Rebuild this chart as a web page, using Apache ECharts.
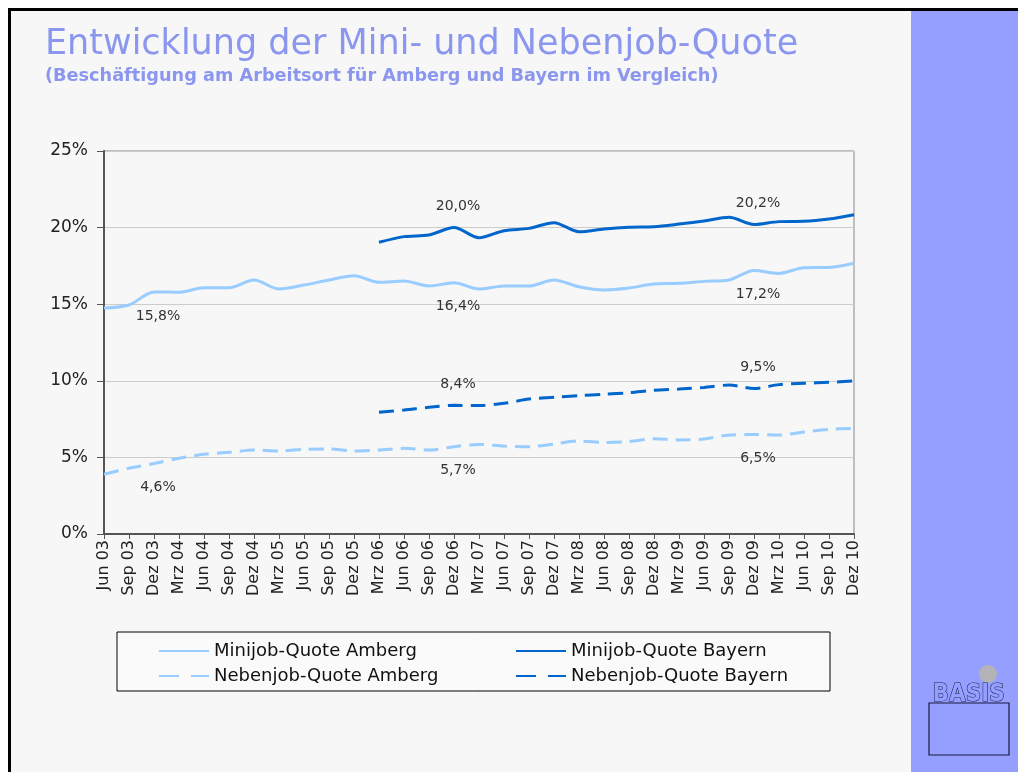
<!DOCTYPE html>
<html>
<head>
<meta charset="utf-8">
<title>Entwicklung der Mini- und Nebenjob-Quote</title>
<script src="https://cdn.jsdelivr.net/npm/echarts@6/dist/echarts.min.js"></script>
<style>
  html, body { margin: 0; padding: 0; background: #fff; }
  #chart { width: 1018px; height: 772px; }
</style>
</head>
<body>
<div id="chart"></div>
<script>
// Quartale Jun 03 - Dez 10
const months = ['Jun 03','Sep 03','Dez 03','Mrz 04','Jun 04','Sep 04','Dez 04','Mrz 05','Jun 05','Sep 05','Dez 05',
  'Mrz 06','Jun 06','Sep 06','Dez 06','Mrz 07','Jun 07','Sep 07','Dez 07','Mrz 08','Jun 08','Sep 08','Dez 08',
  'Mrz 09','Jun 09','Sep 09','Dez 09','Mrz 10','Jun 10','Sep 10','Dez 10'];

const miniAmberg = [14.75,14.95,15.8,15.78,16.08,16.08,16.58,15.99,16.25,16.58,16.86,
  16.43,16.51,16.19,16.4,15.99,16.19,16.19,16.58,16.14,15.93,16.06,16.32,
  16.36,16.49,16.58,17.2,17.01,17.38,17.4,17.67];
const miniBayern = [null,null,null,null,null,null,null,null,null,null,null,
  19.04,19.41,19.52,20.0,19.34,19.8,19.95,20.32,19.73,19.91,20.02,20.06,
  20.23,20.43,20.67,20.2,20.39,20.41,20.56,20.84];
const nebenAmberg = [3.9,4.29,4.6,4.94,5.2,5.33,5.48,5.42,5.53,5.55,5.42,
  5.48,5.59,5.48,5.7,5.85,5.74,5.7,5.87,6.07,5.98,6.03,6.22,
  6.14,6.2,6.46,6.5,6.46,6.66,6.83,6.9];
const nebenBayern = [null,null,null,null,null,null,null,null,null,null,null,
  7.94,8.09,8.27,8.4,8.38,8.53,8.81,8.92,9.03,9.12,9.22,9.38,
  9.46,9.57,9.72,9.5,9.75,9.84,9.9,10.0];

const labelIdx = [2, 14, 26]; // Dez 03, Dez 06, Dez 09
const yTicks = [0, 5, 10, 15, 20, 25];

const hell = '#99ccff';
const dunkel = '#0066cc';
const FONT = 'DejaVu Sans, Liberation Sans, sans-serif';

function withLabels(arr, pos) {
  return arr.map((v, i) => {
    if (labelIdx.indexOf(i) >= 0 && v != null) {
      return { value: v, label: { show: true, position: pos, distance: pos === 'top' ? 14 : 17, offset: [4, 0] } };
    }
    return v;
  });
}

function fmt(p) {
  return p.value.toFixed(1).replace('.', ',') + '%';
}

function lineSeries(name, data, color, dashed, pos) {
  return {
    name: name, type: 'line', smooth: 0.3,
    symbol: 'circle', symbolSize: 0, showSymbol: true,
    data: withLabels(data, pos),
    lineStyle: { color: color, width: 3, type: dashed ? [15, 8] : 'solid' },
    itemStyle: { color: color },
    label: { formatter: fmt, fontSize: 14, color: '#333', fontFamily: FONT },
    emphasis: { disabled: true }
  };
}

const legendDash = { type: [20, 12] };

const chart = echarts.init(document.getElementById('chart'));

chart.setOption({
  backgroundColor: '#f7f7f7',
  animation: false,
  textStyle: { fontFamily: FONT },
  graphic: [
    // weisser Rand + schwarzer Rahmen
    { type: 'rect', shape: { x: 0, y: 0, width: 1018, height: 8 }, style: { fill: '#fff' } },
    { type: 'rect', shape: { x: 0, y: 0, width: 8, height: 772 }, style: { fill: '#fff' } },
    { type: 'rect', shape: { x: 8, y: 8, width: 1010, height: 3 }, style: { fill: '#000' } },
    { type: 'rect', shape: { x: 8, y: 8, width: 3, height: 764 }, style: { fill: '#000' } },
    { type: 'rect', shape: { x: 911, y: 11, width: 107, height: 761 }, style: { fill: '#959fff' } },
    // Logo
    { type: 'circle', shape: { cx: 988, cy: 674, r: 9 }, style: { fill: '#b4b4b8' } },
    { type: 'rect', shape: { x: 929, y: 703, width: 80, height: 52 }, style: { fill: 'none', stroke: '#1a1a40', lineWidth: 1.2 } },
    { type: 'text', left: 932, top: 682, z: 10,
      style: { text: 'BASIS', fill: '#959fff', stroke: '#1a1a40', lineWidth: 1, font: 'bold 24px DejaVu Sans Condensed' } },
    // Legendenkasten
    { type: 'rect', shape: { x: 117, y: 632, width: 713, height: 59 }, style: { fill: '#fafafa', stroke: '#000', lineWidth: 1 } },
    // Titel
    { type: 'text', left: 45, top: 27,
      style: { text: 'Entwicklung der Mini- und Nebenjob-Quote', fill: '#8b96ee', font: '35px DejaVu Sans' } },
    { type: 'text', left: 45, top: 67,
      style: { text: '(Beschäftigung am Arbeitsort für Amberg und Bayern im Vergleich)', fill: '#8b96ee', font: 'bold 17.7px DejaVu Sans' } }
  ],
  legend: [
    {
      data: ['Minijob-Quote Amberg', { name: 'Nebenjob-Quote Amberg', lineStyle: legendDash }],
      orient: 'vertical', left: 153, top: 637, itemWidth: 50, itemHeight: 14, itemGap: 7,
      itemStyle: { opacity: 0 },
      textStyle: { fontSize: 18, color: '#111' }
    },
    {
      data: ['Minijob-Quote Bayern', { name: 'Nebenjob-Quote Bayern', lineStyle: legendDash }],
      orient: 'vertical', left: 510, top: 637, itemWidth: 50, itemHeight: 14, itemGap: 7,
      itemStyle: { opacity: 0 },
      textStyle: { fontSize: 18, color: '#111' }
    }
  ],
  grid: {
    left: 104, right: 164, top: 151, bottom: 238,
    show: true, borderColor: '#888', borderWidth: 1, backgroundColor: 'transparent'
  },
  xAxis: {
    type: 'category',
    data: months,
    boundaryGap: false,
    axisLine: { lineStyle: { color: '#555', width: 2 } },
    axisTick: { show: true, inside: false, length: 5, lineStyle: { color: '#555' } },
    axisLabel: { rotate: 90, fontSize: 16, color: '#222', interval: 0, margin: 6 },
    splitLine: { show: false }
  },
  yAxis: {
    type: 'value',
    min: yTicks[0], max: yTicks[yTicks.length - 1], interval: 5,
    axisLine: { show: true, lineStyle: { color: '#555', width: 2 } },
    axisTick: { show: true, length: 7, lineStyle: { color: '#555' } },
    axisLabel: { formatter: '{value}%', fontSize: 17, color: '#222', margin: 16 },
    splitLine: { lineStyle: { color: '#cccccc' } }
  },
  series: [
    lineSeries('Minijob-Quote Amberg', miniAmberg, hell, false, 'bottom'),
    lineSeries('Minijob-Quote Bayern', miniBayern, dunkel, false, 'top'),
    lineSeries('Nebenjob-Quote Amberg', nebenAmberg, hell, true, 'bottom'),
    lineSeries('Nebenjob-Quote Bayern', nebenBayern, dunkel, true, 'top')
  ]
});
</script>
</body>
</html>
